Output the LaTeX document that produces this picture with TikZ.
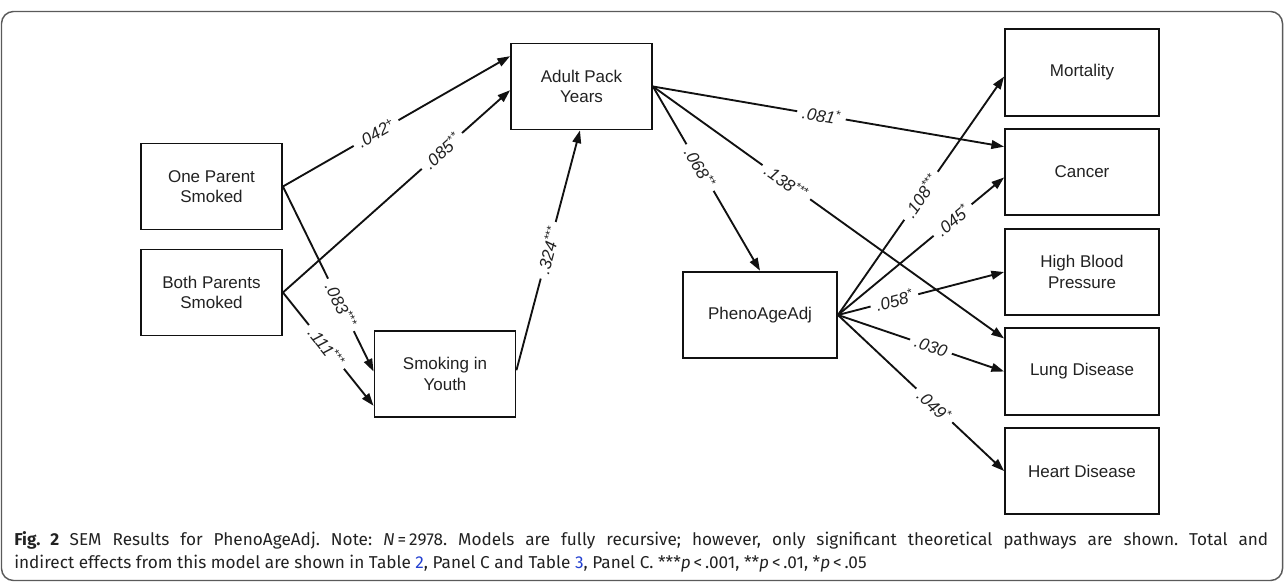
\documentclass[tikz,border=0pt]{standalone}
\usepackage{fontspec}
\setmainfont{Liberation Sans}
\newfontfamily\capfont{Fira Sans}
\usetikzlibrary{arrows.meta,calc,positioning}
\definecolor{semink}{HTML}{111111}
\definecolor{semtext}{HTML}{222222}
\definecolor{semframe}{HTML}{5A5A5A}
\definecolor{semlink}{HTML}{2340D0}
\tikzset{
  varbox/.style={draw=semink,rectangle,fill=white,line width=1.4pt,
    minimum width=105.75pt,minimum height=64.5pt,inner sep=0pt,align=center,
    text=semtext,font=\fontsize{12.75pt}{15.5pt}\selectfont},
  outbox/.style={varbox,minimum width=115.5pt,minimum height=65pt},
  patharrow/.style={draw=semink,line width=1.4pt,-{Triangle[length=9.5pt,width=6.5pt]}},
  pathlabel/.style={sloped,fill=white,inner xsep=4pt,inner ysep=0.5pt,text=semtext,
    font=\fontsize{12.75pt}{15pt}\selectfont\itshape},
  captext/.style={text width=940.5pt,align=justify,inner sep=0pt,text=semtext,
    font=\capfont\fontsize{12.9pt}{17.5pt}\selectfont\frenchspacing},
}

\begin{document}
\begin{tikzpicture}[x=0.75pt,y=-0.75pt]
  \useasboundingbox (0,0) rectangle (1284,584);
  \draw[semframe,line width=1.1pt,rounded corners=9pt] (1.5,11.5) rectangle (1282.5,580.5);
  % predictors and mediators
  \foreach \n/\x/\y/\t in {opsmk/211.5/186.5/{One Parent\\Smoked},
      bpsmk/211.5/292.5/{Both Parents\\Smoked},siy/445/374/{Smoking in\\Youth},
      apy/581.5/86.5/{Adult Pack\\Years}}
    {\node[varbox] (\n) at (\x,\y) {\t};}
  \node[outbox] (pad) at (760,315) {PhenoAgeAdj};
  % outcomes
  \foreach \n/\y/\t in {mort/72.5/Mortality,canc/172/Cancer,hbp/272/{High Blood\\Pressure},
      lung/371.5/Lung Disease,heart/471/Heart Disease}
    {\node[outbox] (\n) at (1082,\y) {\t};}
  % paths
  \foreach \a/\b/\p/\w in {opsmk.east/apy.157/.41/{.042\textsuperscript{+}},
      bpsmk.east/apy.183/.70/{.085\textsuperscript{**}},
      opsmk.east/siy.178/.64/{.083\textsuperscript{***}},
      bpsmk.east/siy.204/.48/{.111\textsuperscript{***}},
      siy.3/apy.268/.50/{.324\textsuperscript{***}},
      apy.east/canc.162/.48/{.081\textsuperscript{*}},
      apy.east/pad.north/.44/{.068\textsuperscript{**}},
      apy.east/lung.157/.38/{.138\textsuperscript{***}},
      pad.east/mort.183/.50/{.108\textsuperscript{***}},
      pad.east/canc.184/.69/{.045\textsuperscript{*}},
      pad.east/hbp.west/.34/{.058\textsuperscript{*}},
      pad.east/lung.west/.56/{.030},
      pad.east/heart.west/.58/{.049\textsuperscript{*}}}
    {\draw[patharrow] (\a) -- node[pathlabel,pos=\p] {\w} (\b);}
  % caption
  \node[captext,anchor=north west] (cap) at (14,531) {{\bfseries Fig.~2}\hspace{0.6em}SEM Results for PhenoAgeAdj. Note: \textit{N}\,=\,2978. Models are fully recursive; however, only significant theoretical pathways are shown. Total and\linebreak indirect effects from this model are shown in Table~\textcolor{semlink}{2}, Panel C and Table~\textcolor{semlink}{3}, Panel C. ***\textit{p}\,<\,.001, **\textit{p}\,<\,.01, *\textit{p}\,<\,.05};
\end{tikzpicture}
\end{document}
